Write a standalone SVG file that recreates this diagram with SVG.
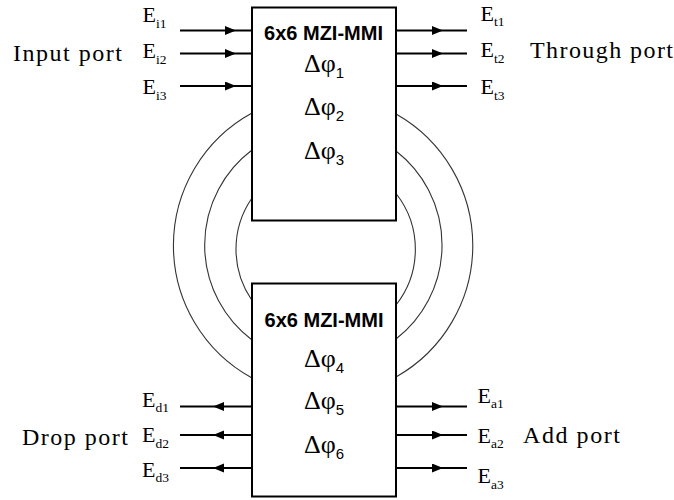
<svg xmlns="http://www.w3.org/2000/svg" width="674" height="500" viewBox="0 0 674 500">
<style>
.box{fill:#fff;stroke:#000;stroke-width:2}
.wg{fill:none;stroke:#333;stroke-width:1.1}
.arr{fill:none;stroke:#000;stroke-width:2}
.title{font-family:"Liberation Sans",Arial,sans-serif;font-weight:bold;font-size:20px;fill:#000}
.phi{font-family:"Liberation Serif","Times New Roman",serif;font-size:26px;fill:#000}
.psub{font-family:"Liberation Sans",Arial,sans-serif;font-size:15px}
.lbl{font-family:"Liberation Serif","Times New Roman",serif;font-size:22px;fill:#000}
.sub{font-size:13.5px}
.port{font-family:"Liberation Serif","Times New Roman",serif;font-size:24px;fill:#000}
</style>
<defs>
<marker id="ah" markerUnits="userSpaceOnUse" markerWidth="12" markerHeight="10" refX="11" refY="4.5" orient="auto">
<path d="M0,0 L11,4.5 L0,9 z" fill="#000"/>
</marker>
</defs>
<g id="connectors">
<path class="wg" d="M252,113 A151,151 0 0 0 252,378"/>
<path class="wg" d="M252,150 A119,119 0 0 0 252,340"/>
<path class="wg" d="M252,198 A90,90 0 0 0 252,300.5"/>
<path class="wg" d="M396,114 A151,151 0 0 1 396,377"/>
<path class="wg" d="M396,151 A119,119 0 0 1 396,339"/>
<path class="wg" d="M396,193.5 A90,90 0 0 1 396,305"/>
<path class="arr" marker-mid="url(#ah)" d="M180,30.5 L236,30.5 L252,30.5"/>
<path class="arr" marker-mid="url(#ah)" d="M180,53.5 L236,53.5 L252,53.5"/>
<path class="arr" marker-mid="url(#ah)" d="M180,86 L236,86 L252,86"/>
<path class="arr" marker-mid="url(#ah)" d="M396,30.5 L443,30.5 L467,30.5"/>
<path class="arr" marker-mid="url(#ah)" d="M396,53.5 L443,53.5 L467,53.5"/>
<path class="arr" marker-mid="url(#ah)" d="M396,86 L443,86 L467,86"/>
<path class="arr" marker-mid="url(#ah)" d="M252,406.5 L213,406.5 L180,406.5"/>
<path class="arr" marker-mid="url(#ah)" d="M252,435 L213,435 L180,435"/>
<path class="arr" marker-mid="url(#ah)" d="M252,468 L213,468 L180,468"/>
<path class="arr" marker-mid="url(#ah)" d="M396,406.5 L443,406.5 L467,406.5"/>
<path class="arr" marker-mid="url(#ah)" d="M396,435 L443,435 L467,435"/>
<path class="arr" marker-mid="url(#ah)" d="M396,468 L443,468 L467,468"/>
</g>
<g id="mzi-top">
<rect class="box" x="252" y="7.5" width="144" height="213"/>
<text class="title" x="323.5" y="39.5" text-anchor="middle">6x6 MZI-MMI</text>
<text class="phi" x="324" y="71.7" text-anchor="middle">Δφ<tspan class="psub" dy="6">1</tspan></text>
<text class="phi" x="324" y="115" text-anchor="middle">Δφ<tspan class="psub" dy="6">2</tspan></text>
<text class="phi" x="324" y="159" text-anchor="middle">Δφ<tspan class="psub" dy="6">3</tspan></text>
</g>
<g id="mzi-bottom">
<rect class="box" x="252" y="283.5" width="144" height="213"/>
<text class="title" x="324" y="326.7" text-anchor="middle">6x6 MZI-MMI</text>
<text class="phi" x="324" y="367.3" text-anchor="middle">Δφ<tspan class="psub" dy="6">4</tspan></text>
<text class="phi" x="324" y="409.3" text-anchor="middle">Δφ<tspan class="psub" dy="6">5</tspan></text>
<text class="phi" x="324" y="452.7" text-anchor="middle">Δφ<tspan class="psub" dy="6">6</tspan></text>
</g>
<g id="input-port">
<text class="port" x="13" y="61" textLength="109" lengthAdjust="spacing">Input port</text>
<text class="lbl" x="142.5" y="22">E<tspan class="sub" dy="5.5">i1</tspan></text>
<text class="lbl" x="142.5" y="58">E<tspan class="sub" dy="5.5">i2</tspan></text>
<text class="lbl" x="142.5" y="94">E<tspan class="sub" dy="5.5">i3</tspan></text>
</g>
<g id="through-port">
<text class="port" x="530" y="58" textLength="143" lengthAdjust="spacing">Through port</text>
<text class="lbl" x="480.5" y="20.5">E<tspan class="sub" dy="5.5">t1</tspan></text>
<text class="lbl" x="480.5" y="57">E<tspan class="sub" dy="5.5">t2</tspan></text>
<text class="lbl" x="480.5" y="94">E<tspan class="sub" dy="5.5">t3</tspan></text>
</g>
<g id="drop-port">
<text class="port" x="22" y="445" textLength="106" lengthAdjust="spacing">Drop port</text>
<text class="lbl" x="142" y="406.5">E<tspan class="sub" dy="5.5">d1</tspan></text>
<text class="lbl" x="142" y="442">E<tspan class="sub" dy="5.5">d2</tspan></text>
<text class="lbl" x="142" y="476.5">E<tspan class="sub" dy="5.5">d3</tspan></text>
</g>
<g id="add-port">
<text class="port" x="523" y="443" textLength="97" lengthAdjust="spacing">Add port</text>
<text class="lbl" x="477.5" y="402.5">E<tspan class="sub" dy="5.5">a1</tspan></text>
<text class="lbl" x="477.5" y="442.5">E<tspan class="sub" dy="5.5">a2</tspan></text>
<text class="lbl" x="477.5" y="483">E<tspan class="sub" dy="5.5">a3</tspan></text>
</g>
</svg>
